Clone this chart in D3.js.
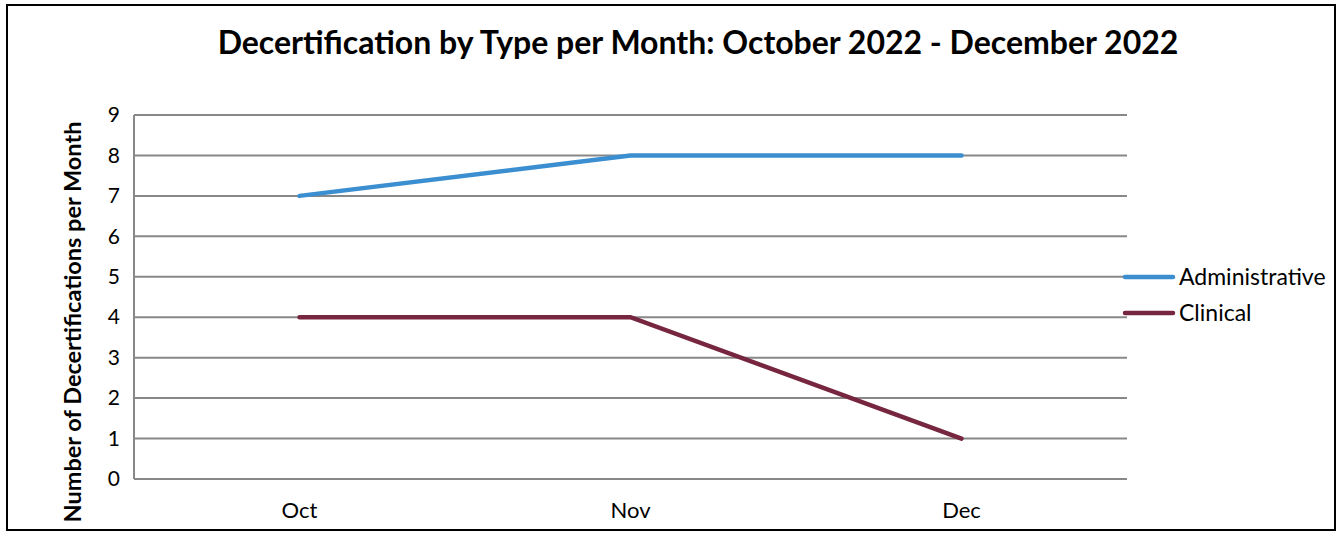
<!DOCTYPE html>
<html>
<head>
<meta charset="utf-8">
<script src="https://cdn.jsdelivr.net/npm/d3@7"></script>
<style>
  body { margin: 0; background: #fff; }
  text { font-family: Lato, "Open Sans", sans-serif; fill: #000; }
</style>
</head>
<body>
<div id="chart"></div>
<script>
// data
const months = ['Oct', 'Nov', 'Dec'];
const administrative = [7, 8, 8];
const clinical = [4, 4, 1];
const yTicks = [0, 1, 2, 3, 4, 5, 6, 7, 8, 9];
const seriesNames = ['Administrative', 'Clinical'];
const seriesColors = ['#3b8fd0', '#76263f'];

const W = 1340, H = 533;
const margin = { top: 115, right: 213, bottom: 54, left: 134 };
const width = W - margin.left - margin.right,
  height = H - margin.top - margin.bottom;

const svg = d3.select('#chart').append('svg')
  .attr('width', W)
  .attr('height', H);

// outer frame
svg.append('rect')
  .attr('x', 7).attr('y', 5)
  .attr('width', 1328).attr('height', 525)
  .attr('fill', 'none')
  .attr('stroke', '#000')
  .attr('stroke-width', 2);

svg.append('text')
  .attr('x', 698)
  .attr('y', 54)
  .attr('text-anchor', 'middle')
  .style('font-weight', 'bold')
  .style('font-size', '32px')
  .text('Decertification by Type per Month: October 2022 - December 2022');

const g = svg.append('g')
  .attr('transform', `translate(${margin.left},${margin.top})`);

const x = d3.scaleBand().domain(months).range([0, width]).padding(0);
const y = d3.scaleLinear().domain([0, 9]).range([height, 0]);

// gridlines
g.append('g')
  .selectAll('line')
  .data(yTicks)
  .join('line')
  .attr('x1', 0).attr('x2', width)
  .attr('y1', d => y(d)).attr('y2', d => y(d))
  .attr('stroke', '#888')
  .attr('stroke-width', 2);

// y axis line
g.append('line')
  .attr('x1', 0).attr('x2', 0)
  .attr('y1', 0).attr('y2', height)
  .attr('stroke', '#888')
  .attr('stroke-width', 2);

const yAxis = d3.axisLeft(y).tickValues(yTicks).tickSize(0).tickPadding(14);
g.append('g')
  .call(yAxis)
  .call(a => a.select('.domain').remove())
  .selectAll('text')
  .style('font-size', '21px')
  .style('font-family', 'Lato, sans-serif');

const xAxis = d3.axisBottom(x).tickSize(0).tickPadding(23);
g.append('g')
  .attr('transform', `translate(0,${height})`)
  .call(xAxis)
  .call(a => a.select('.domain').remove())
  .selectAll('text')
  .style('font-size', '22px')
  .style('font-family', 'Lato, sans-serif');

// axis title
svg.append('text')
  .attr('transform', 'translate(81,322) rotate(-90)')
  .attr('text-anchor', 'middle')
  .style('font-weight', 'bold')
  .style('font-size', '23.5px')
  .text('Number of Decertifications per Month');

const line = d3.line()
  .x((d, i) => x(months[i]) + x.bandwidth() / 2)
  .y(d => y(d));

[administrative, clinical].forEach(function (s, i) {
  g.append('path')
    .datum(s)
    .attr('fill', 'none')
    .attr('stroke', seriesColors[i])
    .attr('stroke-width', 4.5)
    .attr('stroke-linecap', 'round')
    .attr('d', line);
});

// legend
const legend = svg.append('g').attr('transform', 'translate(1125,277)');
seriesNames.forEach(function (n, i) {
  legend.append('line')
    .attr('x1', 0).attr('x2', 48)
    .attr('y1', i * 36).attr('y2', i * 36)
    .attr('stroke', seriesColors[i])
    .attr('stroke-width', 4.5)
    .attr('stroke-linecap', 'round');
  legend.append('text')
    .attr('x', 54)
    .attr('y', i * 36 + 8)
    .style('font-size', '23px')
    .text(n);
});
</script>
</body>
</html>
